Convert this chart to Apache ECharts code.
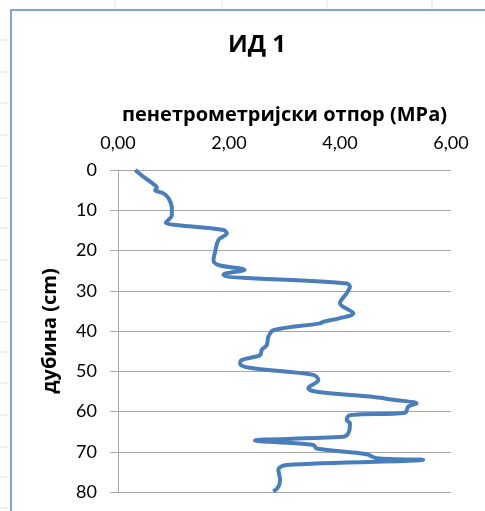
<!DOCTYPE html>
<html>
<head>
<meta charset="utf-8">
<script src="https://cdn.jsdelivr.net/npm/echarts@6/dist/echarts.min.js"></script>
<style>
  html, body { margin: 0; padding: 0; background: #fff; }
  #chart { width: 485px; height: 511px; }
</style>
</head>
<body>
<div id="chart"></div>
<script>
// Penetrometer resistance profile, ИД 1
const titleText = 'ИД 1';
const xAxisName = 'пенетрометријски отпор (MPa)';
const yAxisName = 'дубина (cm)';

// Depth readings (cm) and matching resistance (MPa)
const depth = [
  0, 1.7, 3.3, 4.4, 5.0, 5.8, 7.0, 9.5, 11.2, 12.8, 13.1, 14.9, 15.7, 17.4, 20.3,
  22.4, 23.6, 24.8, 25.7, 26.1, 28.2, 29.0, 30.6, 33.1, 35.6, 36.8, 37.7, 38.1,
  39.8, 41.4, 43.5, 44.7, 46.0, 47.2, 48.2, 49.2, 50.9, 52.2, 54.2, 55.1, 56.3,
  57.1, 58.0, 58.8, 60.3, 60.9, 62.1, 62.9, 65.4, 66.3, 67.2, 68.3, 69.2, 70.6,
  71.6, 72.0, 73.3, 74.5, 77.0, 78.7, 79.9
];
const resistance = [
  0.31, 0.46, 0.62, 0.70, 0.67, 0.82, 0.91, 0.97, 0.97, 0.88, 0.86, 1.90, 1.96, 1.81, 1.75,
  1.72, 1.81, 2.28, 1.93, 1.90, 4.12, 4.18, 4.12, 4.00, 4.24, 4.00, 3.70, 3.64,
  2.80, 2.71, 2.68, 2.59, 2.56, 2.23, 2.20, 2.40, 3.52, 3.61, 3.43, 3.58, 4.54,
  4.96, 5.38, 5.23, 5.17, 4.18, 4.12, 4.18, 4.15, 4.06, 2.47, 3.52, 3.58, 4.48,
  4.66, 5.50, 3.04, 2.89, 2.92, 2.89, 2.80
];

const xTicks = { min: 0, max: 6, interval: 2 };
const yTicks = { min: 0, max: 80, interval: 10 };

const profile = depth.map((d, i) => [resistance[i], d]);

const font = 'Lato, "Open Sans", sans-serif';
const boldFont = '"Open Sans", Lato, sans-serif';
const gridGray = '#a6a6a6';

const chart = echarts.init(document.getElementById('chart'), null, { renderer: 'canvas' });

// faint sheet cell lines behind the chart frame
const sheetLines = [];
[40, 72, 103, 135, 166, 198, 228, 260, 290, 322, 352, 383, 415, 447, 477, 508].forEach(y => {
  sheetLines.push({ type: 'line', shape: { x1: 0, y1: y, x2: 8, y2: y },
    style: { stroke: '#e2e2e2', lineWidth: 1 }, silent: true });
});
[115, 222, 327, 432].forEach(x => {
  sheetLines.push({ type: 'line', shape: { x1: x, y1: 0, x2: x, y2: 9 },
    style: { stroke: '#e2e2e2', lineWidth: 1 }, silent: true });
});

chart.setOption({
  backgroundColor: '#ffffff',
  animation: false,
  title: {
    text: titleText,
    left: 252, top: 28, textAlign: 'center',
    textStyle: { fontFamily: boldFont, fontSize: 24, fontWeight: 'bold', color: '#000' }
  },
  graphic: sheetLines.concat([{
    type: 'rect',
    shape: { x: 11, y: 10, width: 600, height: 600 },
    style: { fill: 'none', stroke: '#5b86c0', lineWidth: 1.5 },
    silent: true
  }]),
  grid: { left: 118, right: 34, top: 170, bottom: 19 },
  xAxis: {
    type: 'value',
    position: 'top',
    min: xTicks.min, max: xTicks.max, interval: xTicks.interval,
    name: xAxisName,
    nameLocation: 'middle',
    nameGap: 45,
    nameTextStyle: { fontFamily: boldFont, fontSize: 20, fontWeight: 'bold', color: '#000' },
    axisLine: { show: false },
    axisTick: { show: false },
    splitLine: { show: false },
    axisLabel: {
      margin: 18,
      fontFamily: font, fontSize: 18, color: '#000',
      formatter: v => v.toFixed(2).replace('.', ',')
    }
  },
  yAxis: {
    type: 'value',
    inverse: true,
    min: yTicks.min, max: yTicks.max, interval: yTicks.interval,
    name: yAxisName,
    nameLocation: 'middle',
    nameRotate: 90,
    nameGap: 58,
    nameTextStyle: { fontFamily: boldFont, fontSize: 20, fontWeight: 'bold', color: '#000' },
    axisLine: { show: true, onZero: false, lineStyle: { color: gridGray, width: 1 } },
    axisTick: { show: true, length: 8, lineStyle: { color: gridGray, width: 1 } },
    splitLine: { show: true, lineStyle: { color: gridGray, width: 1 } },
    axisLabel: { margin: 21, fontFamily: font, fontSize: 18, color: '#000' }
  },
  series: [{
    type: 'line',
    data: profile,
    smooth: 0.35,
    showSymbol: false,
    lineStyle: { color: '#4a7ebb', width: 4 },
    itemStyle: { color: '#4a7ebb' }
  }]
});
</script>
</body>
</html>
